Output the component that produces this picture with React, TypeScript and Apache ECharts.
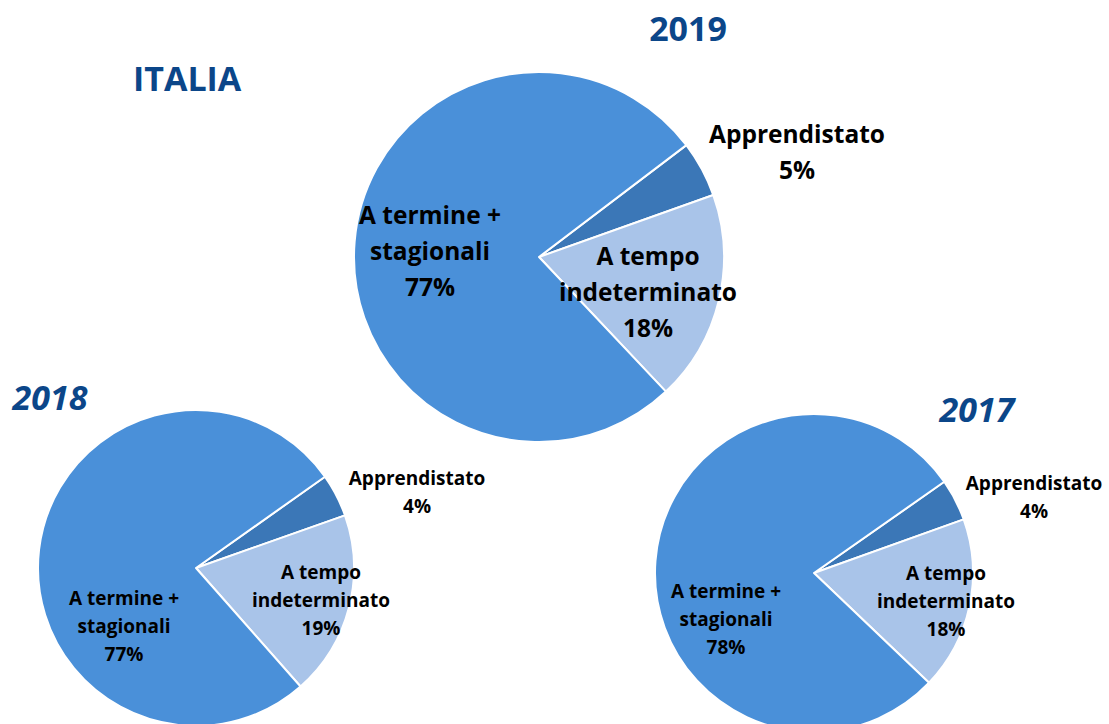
import React, { useEffect, useRef } from "react";
import * as echarts from "echarts";

const categories = ["Apprendistato", "A tempo indeterminato", "A termine + stagionali"];
const displayNames = ["Apprendistato", "A tempo\nindeterminato", "A termine +\nstagionali"];
const years = ["2019", "2018", "2017"];
const values2019 = [4.9, 18.4, 76.7];
const values2018 = [4.4, 18.9, 76.7];
const values2017 = [4.25, 17.6, 78.15];
const mainTitle = "ITALIA";

const colors = ["#3b77b7", "#a9c4e9", "#4a90d9"];
const titleColor = "#0b4689";
const FONT = "'Open Sans'";

// layout (positions only)
const pieLayout = [
  { center: [539, 257], radius: 185, startAngle: 37.2, fontSize: 24.5, lineHeight: 36,
    labels: [[797, 151], [648, 291], [430, 250]] },
  { center: [196, 568], radius: 158, startAngle: 35.3, fontSize: 19, lineHeight: 28,
    labels: [[417, 492], [321, 600], [124, 626]] },
  { center: [814, 573], radius: 159, startAngle: 35, fontSize: 19, lineHeight: 28,
    labels: [[1034, 497], [946, 601], [726, 619]] },
];
const titleLayout = [
  { x: 688, y: 28, italic: false },
  { x: 50, y: 397, italic: true },
  { x: 977, y: 409, italic: true },
];

export default function App() {
  const ref = useRef<HTMLDivElement>(null);
  useEffect(() => {
    if (!ref.current) return;
    const chart = echarts.init(ref.current, undefined, { renderer: "svg" });
    const allValues = [values2019, values2018, values2017];
    const series = allValues.map((vals, si) => {
      const L = pieLayout[si];
      return {
        type: "pie",
        center: L.center,
        radius: L.radius,
        startAngle: L.startAngle,
        clockwise: true,
        avoidLabelOverlap: false,
        itemStyle: { borderColor: "#ffffff", borderWidth: 2 },
        labelLine: { show: false },
        label: {
          show: true,
          position: "inside",
          align: "center",
          verticalAlign: "middle",
          fontFamily: FONT,
          fontWeight: "bold",
          fontSize: L.fontSize,
          lineHeight: L.lineHeight,
          color: "#000000",
          formatter: (p: any) => `${displayNames[p.dataIndex]}\n${Math.round(p.percent)}%`,
        },
        labelLayout: (p: any) => ({
          x: L.labels[p.dataIndex][0],
          y: L.labels[p.dataIndex][1],
          align: "center",
          verticalAlign: "middle",
        }),
        emphasis: { disabled: true },
        data: vals.map((v, i) => ({
          name: categories[i],
          value: v,
          itemStyle: { color: colors[i] },
          labelLine: { show: false },
        })),
      };
    });
    const graphic: any[] = years.map((y, i) => ({
      type: "text",
      x: titleLayout[i].x,
      y: titleLayout[i].y,
      style: {
        text: y,
        fill: titleColor,
        font: `${titleLayout[i].italic ? "italic " : ""}bold 34px ${FONT}`,
        textAlign: "center",
        textVerticalAlign: "middle",
      },
    }));
    graphic.push({
      type: "text",
      x: 133,
      y: 78,
      style: {
        text: mainTitle,
        fill: titleColor,
        font: `bold 34px ${FONT}`,
        textAlign: "left",
        textVerticalAlign: "middle",
      },
    });
    chart.setOption({
      animation: false,
      backgroundColor: "#ffffff",
      series,
      graphic,
    } as any);
    return () => chart.dispose();
  }, []);
  return (
    <div
      ref={ref}
      style={{ position: "absolute", left: 0, top: 0, width: 1109, height: 724 }}
    />
  );
}
